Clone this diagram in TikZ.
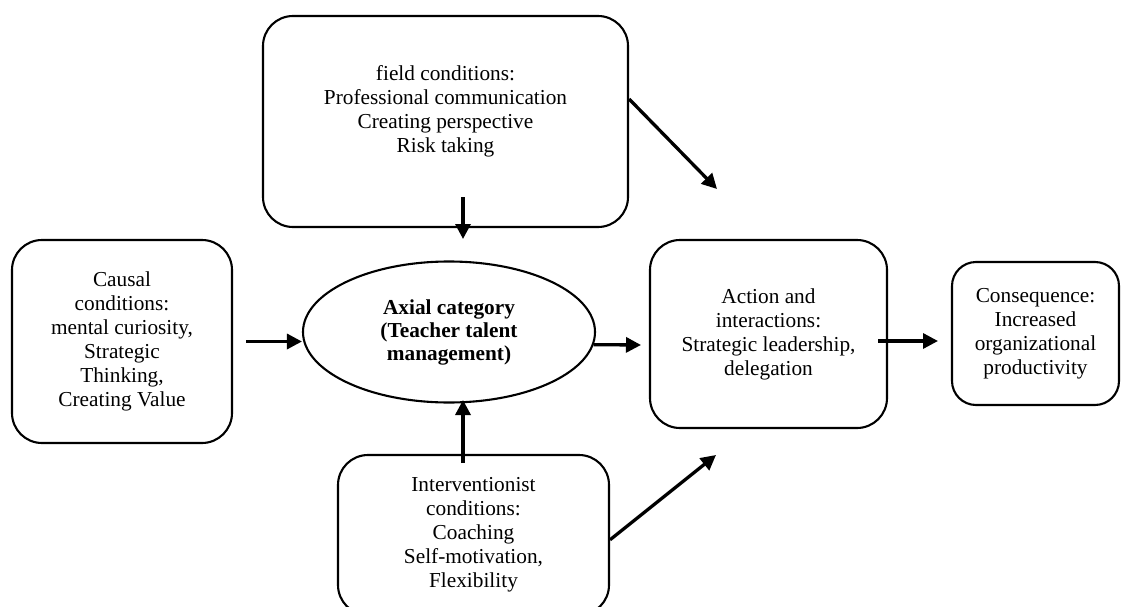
\documentclass[tikz,border=0pt]{standalone}
\usepackage{fontspec}
\setmainfont{Liberation Serif}
\usetikzlibrary{shapes.geometric,arrows.meta}
\begin{document}
\begin{tikzpicture}[x=1pt,y=-1pt]
            \tikzstyle{cadre}=[draw,line width=2.1pt,rounded corners=30pt,align=center,inner sep=0pt,font=\fontsize{21.3}{24}\selectfont]
            \tikzset{edge/.style = {-{Triangle[length=15pt,width=15pt]},line width=3.3pt}}
            \useasboundingbox (0,0) rectangle (1121,607);
            \node[cadre,minimum width=365pt,minimum height=211pt] (field) at (445.5,121.5) {field conditions:\\Professional communication\\Creating perspective\\Risk taking\\ \mbox{}};
            \node[cadre,minimum width=220pt,minimum height=203pt] (causal) at (122,341.5) {Causal\\conditions:\\mental curiosity,\\Strategic\\Thinking,\\Creating Value};
            \node[draw,ellipse,line width=2.1pt,align=center,inner sep=0pt,minimum width=292pt,minimum height=141pt,font=\fontsize{21.3}{23}\selectfont\bfseries] (axial) at (449,332) {Axial category\\(Teacher talent\\management)};
            \node[cadre,minimum width=237pt,minimum height=188pt] (action) at (768.5,334) {Action and\\interactions:\\Strategic leadership,\\delegation};
            \node[cadre,minimum width=167pt,minimum height=143pt,rounded corners=24pt] (cons) at (1035.5,333.5) {Consequence:\\Increased\\organizational\\productivity};
            \node[cadre,minimum width=271pt,minimum height=160pt] (interv) at (473.5,535) {Interventionist\\conditions:\\Coaching\\Self-motivation,\\Flexibility};
            \coordinate (f1) at (463,197);
            \coordinate (f2) at (463,239);
            \coordinate (a1) at (717,189);
            \coordinate (a2) at (716,455);
            \coordinate (i1) at (463,463);
            \coordinate (i2) at (463,400);
            \coordinate (x1) at (641,345);
            \coordinate (c1) at (878,341);
            \coordinate (c2) at (938,341);
            \draw[edge] (f1) -> (f2);
            \draw[edge] (field.7) -> (a1);
            \draw[edge] ([xshift=13pt]causal.east) -> (axial.west |- causal.east);
            \draw[edge] (axial.-5) -> (x1);
            \draw[edge] (i1) -> (i2);
            \draw[edge] (interv.-2) -> (a2);
            \draw[edge] (c1) -> (c2);
        \end{tikzpicture}
\end{document}
